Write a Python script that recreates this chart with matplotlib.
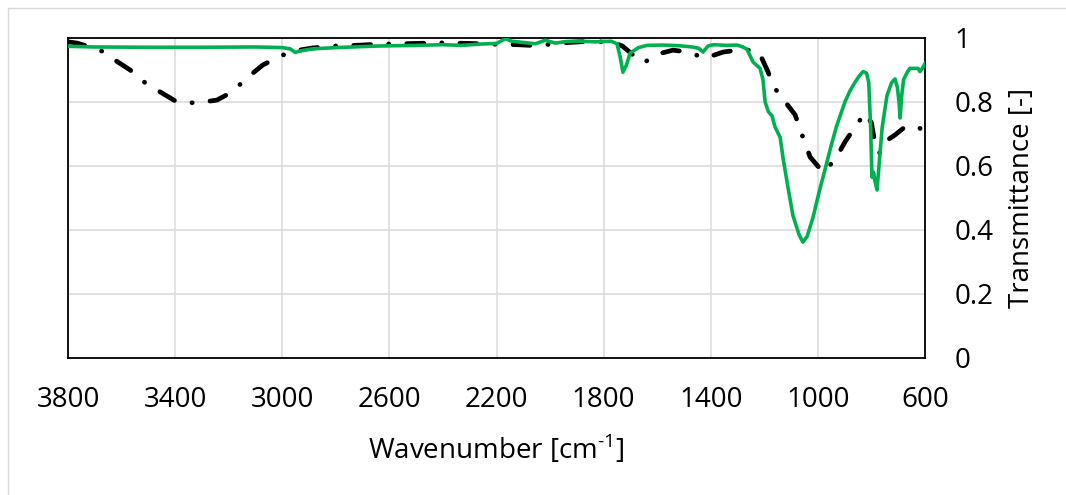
import matplotlib
matplotlib.use("Agg")
import matplotlib.pyplot as plt
from matplotlib.lines import Line2D

# green spectrum
green_wn = [3800, 3700, 3500, 3300, 3100, 3000, 2970, 2952, 2930, 2890,
            2800, 2640, 2500, 2400, 2330, 2260, 2200, 2166, 2144, 2100,
            2055, 2018, 1980, 1940, 1895, 1830, 1772, 1750, 1738, 1728,
            1715, 1701, 1670, 1638, 1580, 1520, 1470, 1445, 1429, 1410,
            1390, 1340, 1302, 1280, 1265, 1242, 1216, 1205, 1197, 1185,
            1171, 1160, 1141, 1130, 1110, 1093, 1070, 1056, 1040, 1018,
            995, 973, 950, 930, 899, 880, 861, 845, 831, 818,
            810, 803, 798, 792, 786, 779, 770, 760, 742, 725,
            712, 703, 697, 693, 687, 680, 665, 656, 640, 626,
            619, 610, 600]
green_t = [0.974, 0.972, 0.971, 0.971, 0.972, 0.970, 0.966, 0.955, 0.960, 0.966,
           0.970, 0.975, 0.977, 0.979, 0.977, 0.981, 0.983, 0.998, 0.990, 0.986,
           0.982, 0.993, 0.984, 0.989, 0.990, 0.988, 0.990, 0.982, 0.940, 0.893,
           0.915, 0.953, 0.970, 0.977, 0.978, 0.976, 0.972, 0.968, 0.956, 0.975,
           0.979, 0.977, 0.978, 0.972, 0.965, 0.925, 0.905, 0.870, 0.800, 0.770,
           0.756, 0.722, 0.690, 0.625, 0.525, 0.445, 0.385, 0.362, 0.380, 0.440,
           0.520, 0.590, 0.665, 0.725, 0.800, 0.835, 0.862, 0.882, 0.895, 0.890,
           0.860, 0.720, 0.565, 0.580, 0.550, 0.525, 0.620, 0.720, 0.820, 0.860,
           0.872, 0.845, 0.800, 0.750, 0.820, 0.870, 0.895, 0.905, 0.905, 0.905,
           0.895, 0.905, 0.920]

# black dash-dot spectrum
black_wn = [3800, 3766, 3681, 3625, 3568, 3512, 3449, 3393, 3318, 3244,
            3188, 3132, 3072, 3016, 2971, 2930, 2885, 2800, 2700, 2635,
            2500, 2411, 2300, 2198, 2120, 2049, 1950, 1851, 1765, 1730,
            1690, 1653, 1625, 1597, 1541, 1485, 1421, 1354, 1302, 1260,
            1220, 1186, 1167, 1119, 1085, 1056, 1029, 981, 936, 899,
            861, 824, 800, 785, 770, 757, 712, 675, 626, 600]
black_t = [0.988, 0.984, 0.963, 0.931, 0.900, 0.860, 0.828, 0.800, 0.797, 0.806,
           0.831, 0.875, 0.916, 0.940, 0.956, 0.963, 0.969, 0.975, 0.978, 0.981,
           0.983, 0.985, 0.983, 0.980, 0.979, 0.976, 0.985, 0.990, 0.986, 0.975,
           0.947, 0.922, 0.935, 0.950, 0.962, 0.956, 0.937, 0.956, 0.962, 0.962,
           0.956, 0.894, 0.850, 0.797, 0.760, 0.690, 0.628, 0.581, 0.619, 0.675,
           0.722, 0.766, 0.735, 0.660, 0.640, 0.672, 0.697, 0.722, 0.722, 0.706]

x_ticks = [3800, 3400, 3000, 2600, 2200, 1800, 1400, 1000, 600]
y_ticks = [0, 0.2, 0.4, 0.6, 0.8, 1]
y_tick_labels = ["0", "0.2", "0.4", "0.6", "0.8", "1"]

plt.rcParams["font.family"] = ["Open Sans", "DejaVu Sans"]
plt.rcParams["mathtext.fontset"] = "custom"
plt.rcParams["mathtext.rm"] = "Open Sans"

W, H = 1066, 495
fig = plt.figure(figsize=(W / 100, H / 100), dpi=100)
ax = fig.add_axes([68 / W, 1 - 358 / H, (925 - 68) / W, 320 / H])

ax.plot(black_wn, black_t, color="black", lw=3.4,
        dashes=(3.6, 3.8, 0.05, 3.8), dash_capstyle="round", zorder=3)
ax.plot(green_wn, green_t, color="#00B050", lw=2.6, zorder=4)

ax.set_xlim(3800, 600)
ax.set_ylim(0, 1)
ax.set_xticks(x_ticks)
ax.set_yticks(y_ticks)
ax.set_yticklabels(y_tick_labels)
ax.grid(True, color="#D9D9D9", lw=1.1)
ax.set_axisbelow(True)

ax.yaxis.tick_right()
ax.tick_params(axis="both", length=0, labelsize=20, colors="black")
ax.tick_params(axis="x", pad=20)
ax.tick_params(axis="y", pad=21)
for s in ax.spines.values():
    s.set_color("black")
    s.set_linewidth(1.3)

ax.set_xlabel(r"Wavenumber [cm$^{\text{-1}}$]", fontsize=20)
ax.xaxis.label.set_va("center")
ax.xaxis.set_label_coords(0.5, -0.285)

ax.yaxis.set_label_position("right")
ax.set_ylabel("Transmittance [-]", fontsize=20, rotation=90)
ax.yaxis.label.set_va("center")
ax.yaxis.set_label_coords((1022 - 68) / 857, 0.5)

# light outer chart border
fig.add_artist(Line2D([7.5 / W, 7.5 / W], [0, 1 - 7.5 / H], color="#D9D9D9", lw=1.0))
fig.add_artist(Line2D([7.5 / W, 1], [1 - 7.5 / H, 1 - 7.5 / H], color="#D9D9D9", lw=1.0))

fig.savefig("out.png", dpi=100)
